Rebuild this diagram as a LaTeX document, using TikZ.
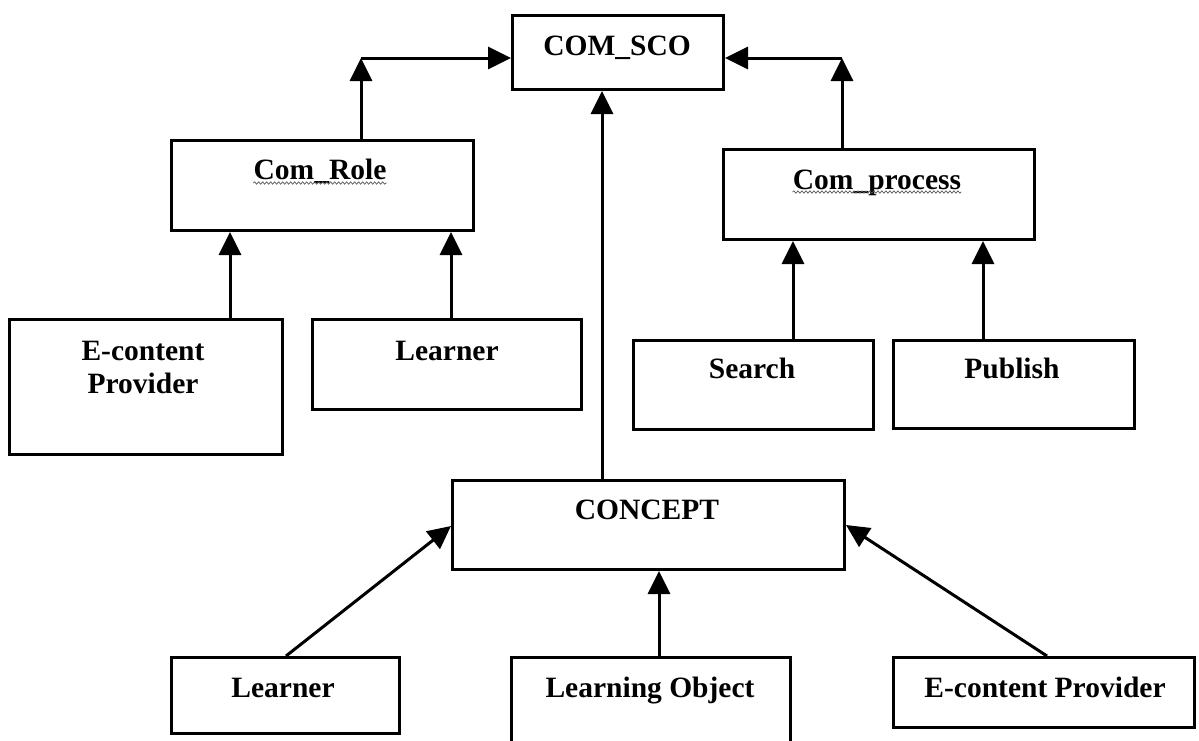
\documentclass[tikz,border=0pt]{standalone}
\usepackage{fontspec}
\setmainfont{Liberation Serif}
\usetikzlibrary{arrows.meta,calc,decorations.pathmorphing}
\tikzset{
    block/.style = {draw, rectangle, line width=3pt,
        inner sep=0pt, anchor=north west},
    caption/.style = {font=\bfseries\fontsize{29.5}{33}\selectfont,
        inner sep=0pt, anchor=base, align=center},
    arrow/.style = {draw, line width=3pt, -{Triangle[length=23pt,width=22pt]}},
    squiggle/.style = {draw=gray!70!black, line width=0.7pt, decorate,
        decoration={snake, amplitude=1.2pt, segment length=4pt}}
}
\begin{document}
\begin{tikzpicture}[x=1pt,y=-1pt]
    \useasboundingbox (0,0) rectangle (1199,740);
    % boxes
    \node[block, minimum width=211, minimum height=74] (sco) at (511,14) {};
    \node[block, minimum width=302, minimum height=90] (role) at (170,139) {};
    \node[block, minimum width=311, minimum height=90] (proc) at (722,148) {};
    \node[block, minimum width=273, minimum height=135] (prov) at (8,318) {};
    \node[block, minimum width=269, minimum height=90] (lrn) at (311,318) {};
    \node[block, minimum width=240, minimum height=89] (srch) at (632,339) {};
    \node[block, minimum width=241, minimum height=88] (pub) at (892,339) {};
    \node[block, minimum width=392, minimum height=89] (cpt) at (451,479) {};
    \node[block, minimum width=228, minimum height=76] (lrnb) at (170,656) {};
    \node[block, minimum width=279, minimum height=100] (lobj) at (510,656) {};
    \node[block, minimum width=301, minimum height=70] (provb) at (892,656) {};
    % texts
    \node[caption] (scot) at (617,55) {COM\_SCO};
    \node[caption] (rolet) at (320,179) {Com\_Role};
    \node[caption] (proct) at (877,189) {Com\_process};
    \node[caption] (provt) at (143,393) {E-content\\Provider};
    \node[caption] (lrnt) at (447,360) {Learner};
    \node[caption] (srcht) at (752,378) {Search};
    \node[caption] (pubt) at (1012,378) {Publish};
    \node[caption] (cptt) at (647,519) {CONCEPT};
    \node[caption] (lrnbt) at (283,697) {Learner};
    \node[caption] (lobjt) at (650,697) {Learning Object};
    \node[caption] (provbt) at (1045,697) {E-content Provider};
    \draw[squiggle] ([yshift=-4pt]rolet.base west) -- ([yshift=-4pt]rolet.base east);
    \draw[squiggle] ([yshift=-3pt]proct.base west) -- ([yshift=-3pt]proct.base east);
    % connectors
    \coordinate (rolec) at (361,58);
    \coordinate (procc) at (842,58);
    \draw[arrow] (role.north -| rolec) -- (rolec);
    \draw[arrow] (rolec) -- (sco.west |- rolec);
    \draw[arrow] (proc.north -| procc) -- (procc);
    \draw[arrow] (procc) -- (sco.east |- procc);
    \draw[arrow] (cpt.north -| 602,0) -- (sco.south -| 602,0);
    \draw[arrow] (prov.north -| 230,0) -- (role.south -| 230,0);
    \draw[arrow] (lrn.north -| 451,0) -- (role.south -| 451,0);
    \draw[arrow] (srch.north -| 793,0) -- (proc.south -| 793,0);
    \draw[arrow] (pub.north -| 983,0) -- (proc.south -| 983,0);
    \draw[arrow] (lrnb.north -| 286,0) -- (cpt.west |- 0,526);
    \draw[arrow] (lobj.north -| 659,0) -- (cpt.south -| 659,0);
    \draw[arrow] (provb.north -| 1047,0) -- (cpt.east |- 0,525);
\end{tikzpicture}
\end{document}
